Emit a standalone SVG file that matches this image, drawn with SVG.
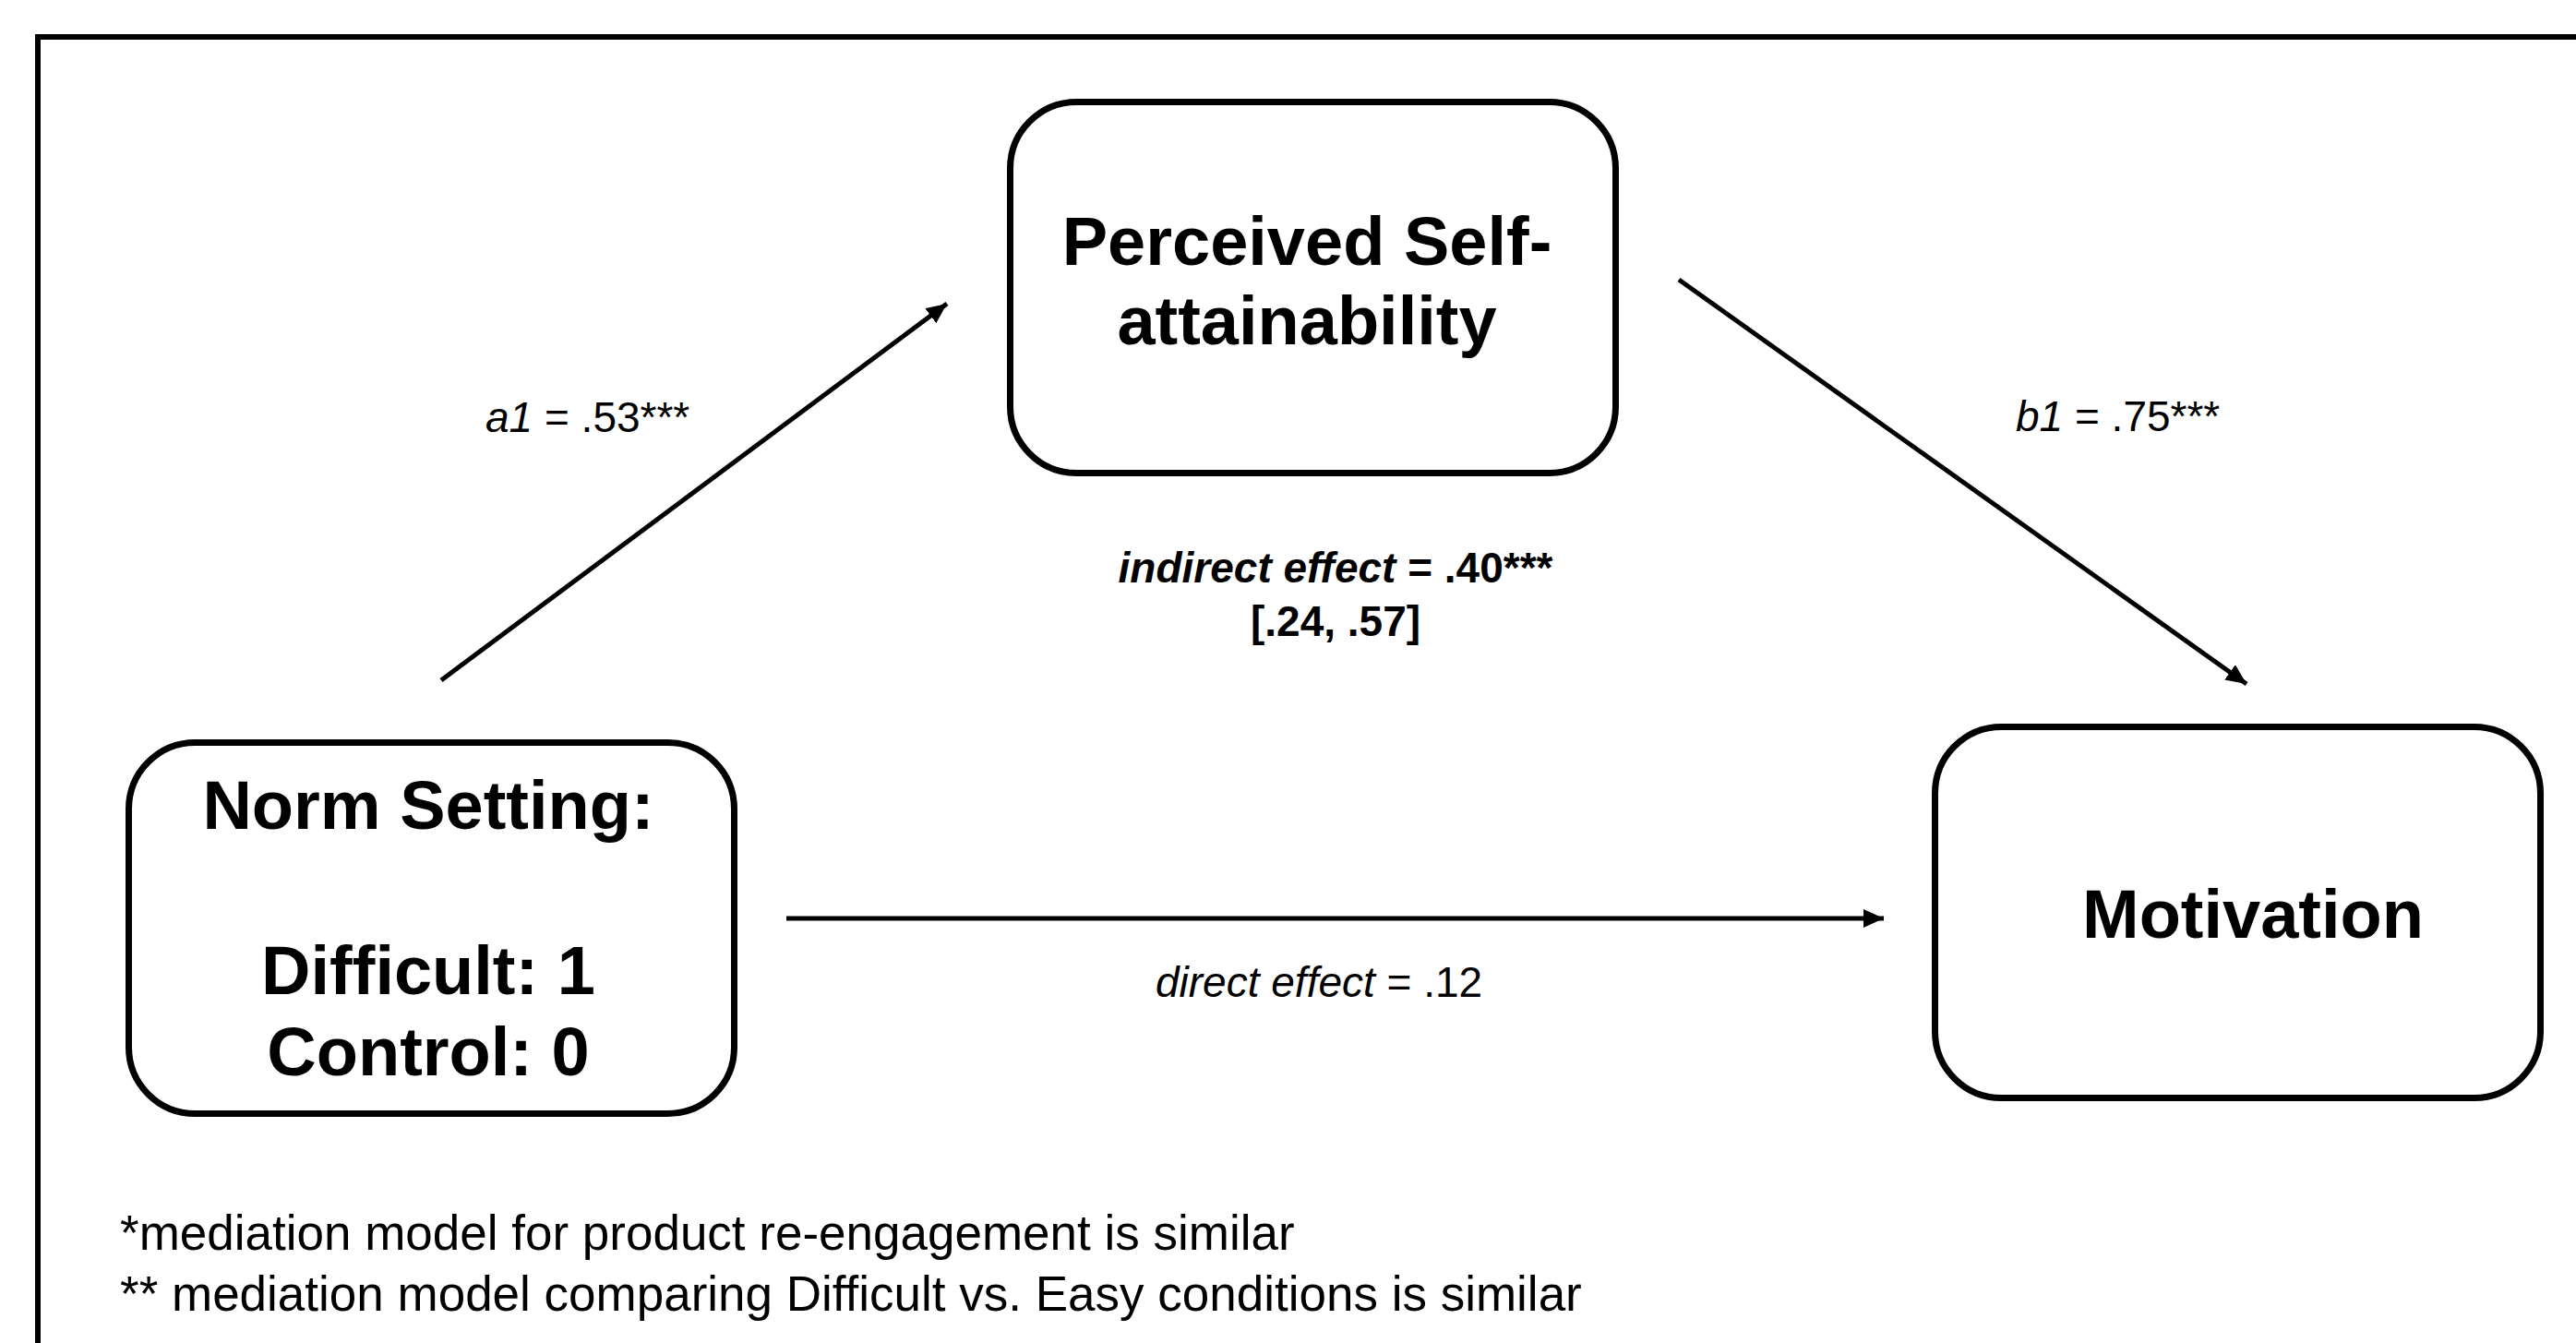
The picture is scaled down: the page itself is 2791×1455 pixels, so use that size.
<svg xmlns="http://www.w3.org/2000/svg" width="2791" height="1455" viewBox="0 0 2791 1455">
<style>
.box{fill:#fff;stroke:#000;stroke-width:7}
.node{font-family:"Liberation Sans",Arial,sans-serif;font-weight:bold;font-size:74px;fill:#000;text-anchor:middle}
.lbl{font-family:"Liberation Sans",Arial,sans-serif;font-size:46px;fill:#000}
.conn{stroke:#000;stroke-width:5;fill:none}
.note{font-family:"Liberation Sans",Arial,sans-serif;font-size:53px;fill:#000}
</style>
<defs>
<marker id="ah" markerUnits="userSpaceOnUse" markerWidth="24" markerHeight="20" refX="22" refY="10" orient="auto">
<path d="M0,0 L22,10 L0,20 z" fill="#000"/>
</marker>
</defs>
<rect width="2791" height="1455" fill="#fff"/>
<path d="M41,1455 V40 H2791" fill="none" stroke="#000" stroke-width="6"/>
<g id="connectors">
<line class="conn" x1="478" y1="737" x2="1026" y2="329" marker-end="url(#ah)"/>
<line class="conn" x1="1819" y1="303" x2="2434" y2="741" marker-end="url(#ah)"/>
<line class="conn" x1="852" y1="995" x2="2041" y2="995" marker-end="url(#ah)"/>
<text class="lbl" x="526" y="468" font-size="47"><tspan font-style="italic">a1</tspan> = .53***</text>
<text class="lbl" x="2184" y="467" font-size="47"><tspan font-style="italic">b1</tspan> = .75***</text>
<text class="lbl" x="1252" y="1080" font-size="47"><tspan font-style="italic">direct effect</tspan> = .12</text>
<text class="lbl" x="1447" y="631" font-size="48" font-weight="bold" text-anchor="middle"><tspan font-style="italic">indirect effect</tspan> = .40***</text>
<text class="lbl" x="1447" y="689" font-size="48" font-weight="bold" text-anchor="middle">[.24, .57]</text>
</g>
<g id="node-mediator">
<rect class="box" x="1094.5" y="110.5" width="656" height="402" rx="72" ry="72"/>
<text class="node" x="1416" y="287">Perceived Self-</text>
<text class="node" x="1416" y="373">attainability</text>
</g>
<g id="node-norm">
<rect class="box" x="139.5" y="804.5" width="656" height="402" rx="72" ry="72"/>
<text class="node" x="464" y="898">Norm Setting:</text>
<text class="node" x="464" y="1077">Difficult: 1</text>
<text class="node" x="464" y="1165">Control: 0</text>
</g>
<g id="node-motivation">
<rect class="box" x="2096.5" y="787.5" width="656" height="402" rx="72" ry="72"/>
<text class="node" x="2441" y="1016">Motivation</text>
</g>
<text class="note" x="130" y="1354">*mediation model for product re-engagement is similar</text>
<text class="note" x="130" y="1420">** mediation model comparing Difficult vs. Easy conditions is similar</text>
</svg>
